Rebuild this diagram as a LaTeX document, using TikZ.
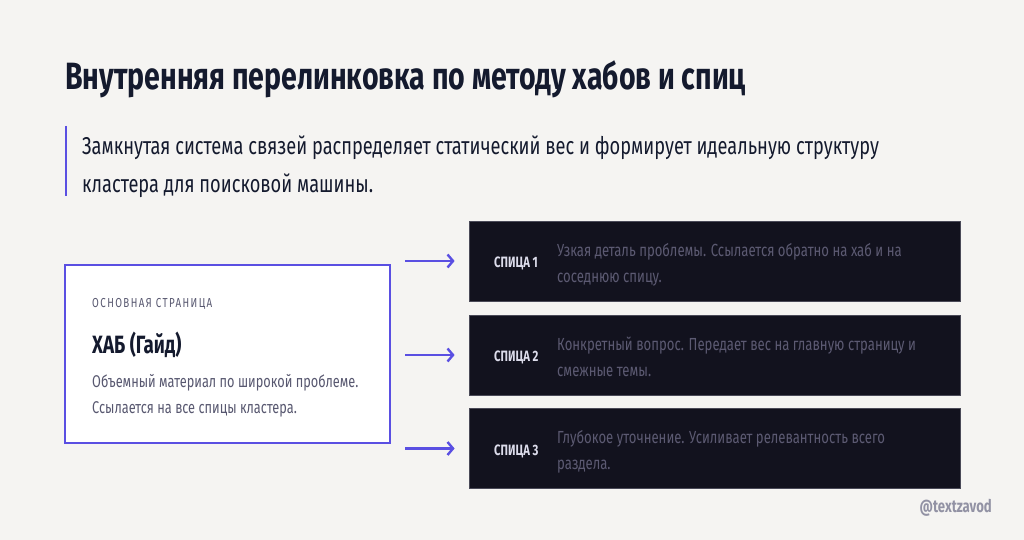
\documentclass[tikz,border=0pt]{standalone}
\usepackage{fontspec}
\setmainfont{Fira Sans}[FakeStretch=0.75]
\newfontfamily\tagfont{Fira Sans}[FakeStretch=0.75,LetterSpace=11]
\usetikzlibrary{arrows.meta}
\usepackage{xcolor}
\definecolor{paper}{HTML}{F5F4F2}
\definecolor{ink}{HTML}{141A2E}
\definecolor{violet}{HTML}{5A4FE2}
\definecolor{night}{HTML}{12121E}
\definecolor{rim}{HTML}{4A4A58}
\definecolor{greytext}{HTML}{585870}
\definecolor{dimtext}{HTML}{5C5A72}
\definecolor{pale}{HTML}{DCDCEB}
\definecolor{handlegrey}{HTML}{9292A4}
\tikzset{
  txt/.style={anchor=base west, inner sep=0, align=left},
  spoke/.style={fill=night, draw=rim, line width=0.8, minimum width=491, minimum height=80, inner sep=0},
  spokelabel/.style={txt, text=pale, font=\bfseries\fontsize{15}{17}\selectfont},
  spokedesc/.style={txt, text=dimtext, font=\fontsize{17.5}{26}\selectfont},
  link/.style={violet, line width=2.4, -{Straight Barb[length=5.5pt,width=13pt]}, shorten <=14, shorten >=14}
}

\begin{document}
\begin{tikzpicture}[x=1pt,y=-1pt]
    \fill[paper] (0,0) rectangle (1024,540);
    \node[txt, text=ink, font=\bfseries\fontsize{38}{42}\selectfont] (title) at (65,90) {Внутренняя перелинковка по методу хабов и спиц};
    \draw[violet, line width=2] (66,126) -- (66,196);
    % base of a two-line node is its last line
    \node[txt, text=ink, font=\fontsize{24.3}{37}\selectfont] (lead) at (82,192) {Замкнутая система связей распределяет статический вес и формирует идеальную структуру\\кластера для поисковой машины.};

    % hub
    \node[fill=white, draw=violet, line width=2, minimum width=325, minimum height=178, inner sep=0] (hub) at (227.5,354) {};
    \node[txt, text=greytext, font=\tagfont\fontsize{13}{15}\selectfont] (hubtag) at (92,307) {ОСНОВНАЯ СТРАНИЦА};
    \node[txt, text=ink, font=\bfseries\fontsize{25}{28}\selectfont] (hubname) at (92,353) {ХАБ (Гайд)};
    \node[txt, text=greytext, font=\fontsize{17}{26}\selectfont] (hubdesc) at (92,413) {Объемный материал по широкой проблеме.\\Ссылается на все спицы кластера.};

    % spokes
    \node[spoke] (s1) at (714.5,261) {};
    \node[spoke] (s2) at (714.5,355) {};
    \node[spoke] (s3) at (714.5,448.5) {};
    \node[spokelabel] (l1) at (494,267) {СПИЦА 1};
    \node[spokelabel] (l2) at (494,361) {СПИЦА 2};
    \node[spokelabel] (l3) at (494,455) {СПИЦА 3};
    \node[spokedesc] (d1) at (557,282) {Узкая деталь проблемы. Ссылается обратно на хаб и на\\соседнюю спицу.};
    \node[spokedesc] (d2) at (557,376) {Конкретный вопрос. Передает вес на главную страницу и\\смежные темы.};
    \node[spokedesc] (d3) at (557,469) {Глубокое уточнение. Усиливает релевантность всего\\раздела.};

    \draw[link] (hub.east |- s1.west) -- (s1.west);
    \draw[link] (hub.east |- s2.west) -- (s2.west);
    \draw[link] (hub.east |- s3.west) -- (s3.west);

    \node[anchor=base east, inner sep=0, text=handlegrey, font=\bfseries\fontsize{17.5}{19}\selectfont] (handle) at (992,512) {@textzavod};
\end{tikzpicture}
\end{document}
